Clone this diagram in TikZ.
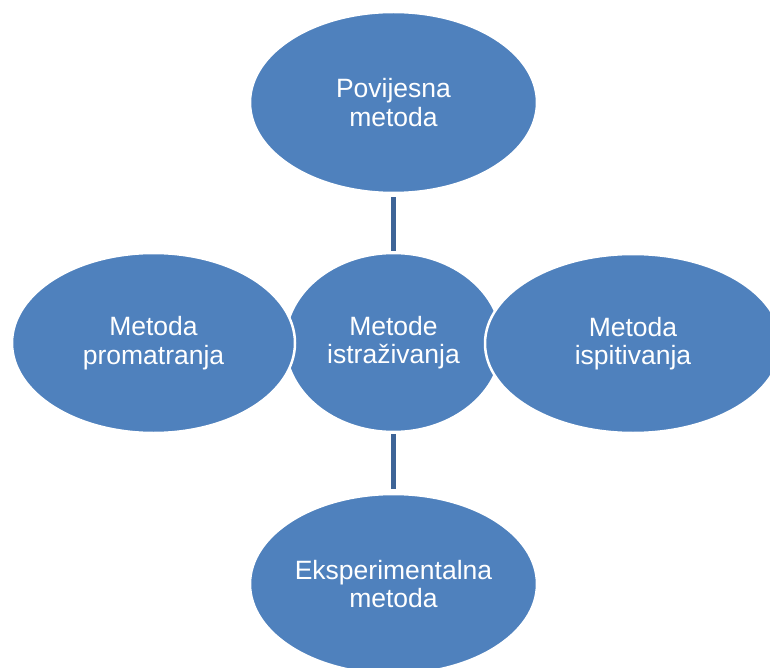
\documentclass[tikz,border=0pt]{standalone}
\usepackage{fontspec}
\setmainfont{Liberation Sans}
\usetikzlibrary{shapes.geometric}
\definecolor{bubble}{HTML}{4F81BD}
\definecolor{linkc}{HTML}{3D6497}
\tikzset{
  bub/.style={ellipse, fill=bubble, draw=white, line width=2.5pt, inner sep=0pt,
    text=white, align=center, font=\fontsize{26.5}{28.3}\selectfont},
  link/.style={draw=linkc, line width=5pt}
}
\begin{document}
\begin{tikzpicture}[x=1pt,y=-1pt]
\useasboundingbox (0,0) rectangle (770,668);
\node[bub, minimum width=217pt, minimum height=179pt] (c) at (393.5,342.5) {Metode\\istraživanja};
\node[bub, minimum width=287pt, minimum height=181pt] (t) at (393.5,102.5) {Povijesna\\metoda};
\node[bub, minimum width=283pt, minimum height=180pt] (l) at (153.5,343) {Metoda\\promatranja};
\node[bub, minimum width=296pt, minimum height=179pt] (r) at (633,343.5) {Metoda\\ispitivanja};
\node[bub, minimum width=287pt, minimum height=180pt] (b) at (393.5,584) {Eksperimentalna\\metoda};
\draw[link, shorten <=3pt, shorten >=1pt] (t) -- (c);
\draw[link, shorten <=1pt, shorten >=4pt] (c) -- (b);
\end{tikzpicture}
\end{document}
